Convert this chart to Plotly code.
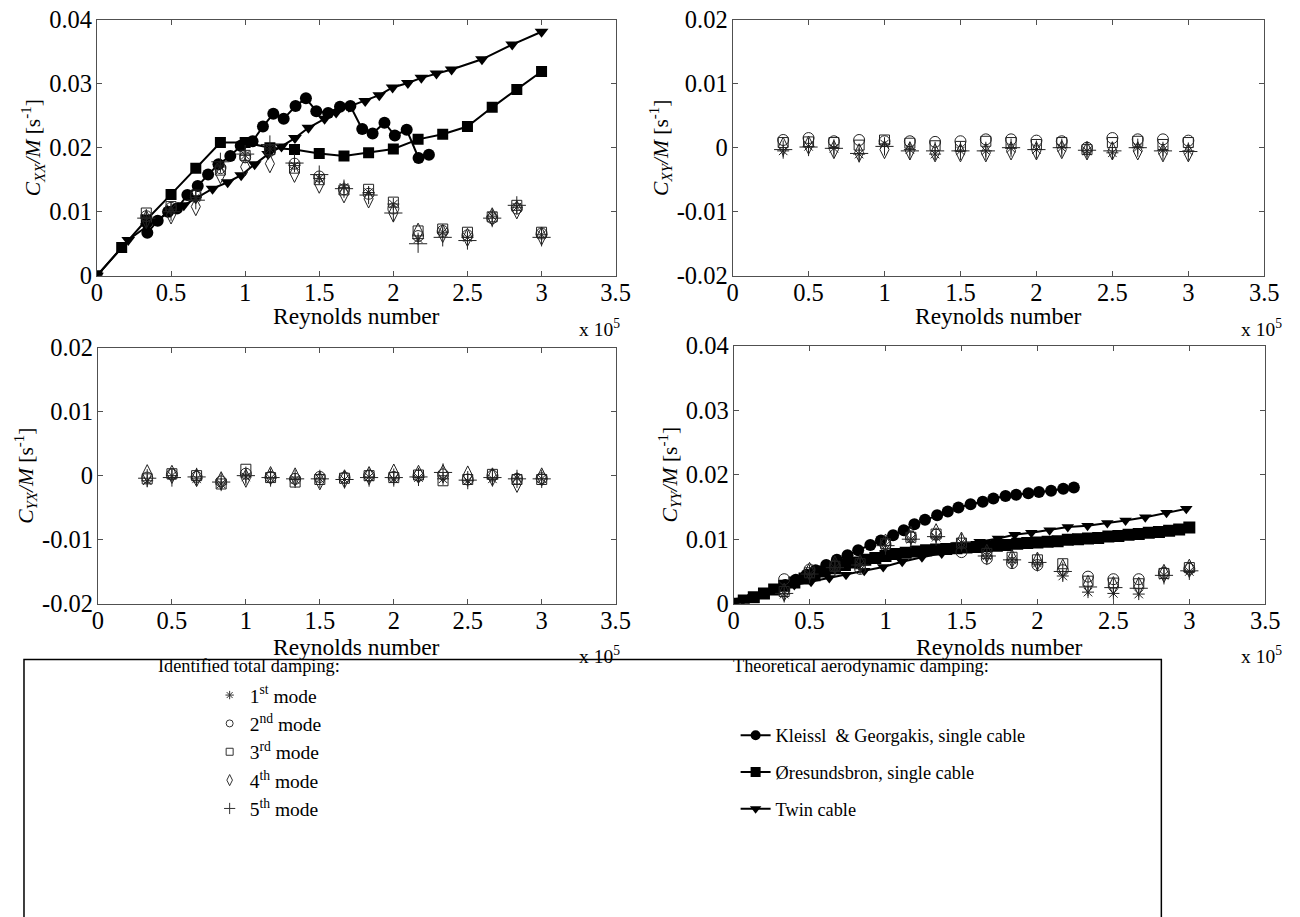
import plotly.graph_objects as go

# ---------------- data ----------------
# Reynolds number (x 10^5) at which the damping was identified
re_exp = [0.333, 0.5, 0.667, 0.833, 1.0, 1.167, 1.333, 1.5, 1.667, 1.833,
          2.0, 2.167, 2.333, 2.5, 2.667, 2.833, 3.0]

mode_names = ["1<sup>st</sup> mode", "2<sup>nd</sup> mode", "3<sup>rd</sup> mode",
              "4<sup>th</sup> mode", "5<sup>th</sup> mode"]

# C_XX / M, identified, per mode
cxx_m1 = [0.0090, 0.0104, 0.0122, 0.0170, 0.0188, 0.0198, 0.0172, 0.0152, 0.0138, 0.0130,
          0.0112, 0.0058, 0.0068, 0.0060, 0.0093, 0.0107, 0.0064]
cxx_m2 = [0.0093, 0.0106, 0.0125, 0.0168, 0.0185, 0.0195, 0.0175, 0.0155, 0.0135, 0.0128,
          0.0105, 0.0062, 0.0070, 0.0063, 0.0090, 0.0105, 0.0066]
cxx_m3 = [0.0098, 0.0108, 0.0126, 0.0165, 0.0188, 0.0197, 0.0168, 0.0150, 0.0134, 0.0135,
          0.0115, 0.0070, 0.0073, 0.0068, 0.0092, 0.0110, 0.0068]
cxx_m4 = [0.0088, 0.0095, 0.0108, 0.0158, 0.0170, 0.0175, 0.0160, 0.0143, 0.0128, 0.0120,
          0.0098, 0.0068, 0.0066, 0.0060, 0.0092, 0.0103, 0.0062]
cxx_m5 = [0.0090, 0.0100, 0.0118, 0.0178, 0.0190, 0.0205, 0.0176, 0.0158, 0.0136, 0.0126,
          0.0098, 0.0050, 0.0060, 0.0055, 0.0090, 0.0110, 0.0060]

# C_XY / M, identified, per mode
cxy_m1 = [-0.0005, 0.0002, -0.0001, -0.0010, 0.0006, -0.0003, -0.0010, -0.0005, -0.0005, -0.0001,
          -0.0003, 0.0000, -0.0005, -0.0008, 0.0000, -0.0004, -0.0005]
cxy_m2 = [0.0012, 0.0015, 0.0010, 0.0012, 0.0010, 0.0010, 0.0009, 0.0010, 0.0013, 0.0013,
          0.0011, 0.0010, 0.0000, 0.0015, 0.0013, 0.0013, 0.0011]
cxy_m3 = [0.0008, 0.0009, 0.0008, 0.0004, 0.0012, 0.0007, 0.0003, 0.0002, 0.0010, 0.0008,
          0.0005, 0.0008, -0.0003, 0.0008, 0.0010, 0.0005, 0.0008]
cxy_m4 = [0.0002, 0.0004, -0.0003, -0.0008, -0.0003, -0.0005, -0.0008, -0.0008, -0.0008, -0.0005,
          -0.0005, -0.0003, -0.0005, -0.0005, -0.0005, -0.0008, -0.0008]
cxy_m5 = [-0.0003, 0.0001, -0.0001, -0.0009, 0.0002, -0.0005, -0.0005, -0.0005, -0.0005, 0.0000,
          -0.0003, 0.0000, -0.0004, -0.0005, 0.0000, -0.0005, -0.0006]

# C_YX / M, identified, per mode
cyx_m1 = [-0.0008, 0.0000, -0.0005, -0.0013, -0.0002, -0.0004, -0.0006, -0.0005, -0.0006, -0.0002,
          -0.0005, -0.0003, -0.0005, -0.0008, -0.0005, -0.0004, -0.0005]
cyx_m2 = [-0.0003, 0.0002, -0.0002, -0.0009, 0.0003, -0.0002, -0.0005, -0.0002, -0.0003, 0.0000,
          -0.0002, 0.0000, 0.0002, -0.0006, 0.0000, -0.0005, -0.0004]
cyx_m3 = [-0.0005, 0.0003, 0.0000, -0.0013, 0.0010, -0.0003, -0.0010, -0.0006, -0.0004, 0.0000,
          -0.0003, 0.0001, -0.0008, -0.0006, 0.0002, -0.0006, -0.0006]
cyx_m4 = [0.0003, 0.0002, -0.0003, -0.0008, -0.0004, 0.0000, -0.0002, -0.0008, -0.0005, 0.0000,
          0.0004, 0.0002, 0.0003, 0.0001, -0.0002, -0.0012, -0.0002]
cyx_m5 = [-0.0004, -0.0003, -0.0002, -0.0010, 0.0000, -0.0003, -0.0005, -0.0005, -0.0006, -0.0003,
          -0.0003, -0.0002, 0.0005, -0.0007, -0.0003, -0.0005, -0.0005]

# C_YY / M, identified, per mode
cyy_m1 = [0.0015, 0.0046, 0.0056, 0.0060, 0.0090, 0.0100, 0.0103, 0.0095, 0.0074, 0.0068,
          0.0063, 0.0043, 0.0018, 0.0016, 0.0015, 0.0044, 0.0050]
cyy_m2 = [0.0038, 0.0053, 0.0058, 0.0054, 0.0092, 0.0104, 0.0107, 0.0080, 0.0070, 0.0063,
          0.0060, 0.0052, 0.0042, 0.0038, 0.0038, 0.0048, 0.0054]
cyy_m3 = [0.0019, 0.0048, 0.0058, 0.0062, 0.0093, 0.0103, 0.0108, 0.0094, 0.0078, 0.0072,
          0.0068, 0.0062, 0.0035, 0.0032, 0.0031, 0.0047, 0.0056]
cyy_m4 = [0.0018, 0.0050, 0.0060, 0.0062, 0.0094, 0.0106, 0.0110, 0.0097, 0.0078, 0.0070,
          0.0066, 0.0055, 0.0030, 0.0028, 0.0027, 0.0047, 0.0055]
cyy_m5 = [0.0016, 0.0046, 0.0056, 0.0060, 0.0090, 0.0100, 0.0104, 0.0095, 0.0074, 0.0068,
          0.0064, 0.0050, 0.0026, 0.0025, 0.0024, 0.0044, 0.0051]

# Theoretical aerodynamic damping
kg_re = [0.34, 0.41, 0.48, 0.54, 0.61, 0.68, 0.75, 0.82, 0.90, 0.97, 1.05, 1.12, 1.19, 1.26,
         1.34, 1.41, 1.48, 1.56, 1.64, 1.71, 1.79, 1.86, 1.94, 2.01, 2.09, 2.17, 2.24]
kg_cxx = [0.0067, 0.0086, 0.0100, 0.0105, 0.0126, 0.0140, 0.0158, 0.0174, 0.0187, 0.0203,
          0.0210, 0.0233, 0.0253, 0.0245, 0.0265, 0.0277, 0.0257, 0.0254, 0.0264, 0.0265,
          0.0229, 0.0222, 0.0239, 0.0219, 0.0228, 0.0184, 0.0189]
kg_cyy = [0.0029, 0.0037, 0.0045, 0.0052, 0.0060, 0.0068, 0.0075, 0.0083, 0.0091, 0.0098,
          0.0106, 0.0114, 0.0123, 0.0130, 0.0137, 0.0143, 0.0149, 0.0154, 0.0158, 0.0163,
          0.0167, 0.0169, 0.0171, 0.0173, 0.0175, 0.0178, 0.0180]

ore_re_xx = [0.0, 0.167, 0.333, 0.5, 0.667, 0.833, 1.0, 1.167, 1.333, 1.5, 1.667, 1.833,
             2.0, 2.167, 2.333, 2.5, 2.667, 2.833, 3.0]
ore_cxx = [0.0, 0.0044, 0.0087, 0.0127, 0.0168, 0.0208, 0.0208, 0.0200, 0.0197, 0.0191,
           0.0187, 0.0192, 0.0198, 0.0213, 0.0221, 0.0233, 0.0263, 0.0291, 0.0319]

ore_re_yy = [0.0, 0.067, 0.133, 0.2, 0.267, 0.333, 0.4, 0.467, 0.533, 0.6, 0.667, 0.733,
             0.8, 0.867, 0.933, 1.0, 1.067, 1.133, 1.2, 1.267, 1.333, 1.4, 1.467, 1.533,
             1.6, 1.667, 1.733, 1.8, 1.867, 1.933, 2.0, 2.067, 2.133, 2.2, 2.267, 2.333,
             2.4, 2.467, 2.533, 2.6, 2.667, 2.733, 2.8, 2.867, 2.933, 3.0]
ore_cyy = [0.0, 0.0005, 0.0010, 0.0016, 0.0022, 0.0028, 0.0033, 0.0039, 0.0044, 0.0050,
           0.0055, 0.0060, 0.0064, 0.0068, 0.0071, 0.0074, 0.0077, 0.0079, 0.0081, 0.0083,
           0.0084, 0.0085, 0.0086, 0.0087, 0.0088, 0.0089, 0.0090, 0.0091, 0.0093, 0.0094,
           0.0095, 0.0096, 0.0097, 0.0099, 0.0100, 0.0101, 0.0102, 0.0104, 0.0105, 0.0107,
           0.0108, 0.0110, 0.0111, 0.0113, 0.0115, 0.0118]

twin_re_xx = [0.0, 0.211, 0.336, 0.495, 0.586, 0.666, 0.78, 0.882, 0.973, 1.064, 1.155, 1.245,
              1.336, 1.427, 1.536, 1.614, 1.70, 1.81, 1.905, 1.995, 2.098, 2.189, 2.291,
              2.393, 2.598, 2.802, 3.0]
twin_cxx = [0.0, 0.0056, 0.0077, 0.0100, 0.0110, 0.0121, 0.0136, 0.0146, 0.0157, 0.0174,
            0.0190, 0.0202, 0.0215, 0.0231, 0.0245, 0.0255, 0.0264, 0.0273, 0.0282, 0.0294,
            0.0301, 0.0309, 0.0316, 0.0322, 0.0338, 0.0361, 0.0381]

twin_re_yy = [0.0, 0.06, 0.13, 0.21, 0.29, 0.40, 0.51, 0.63, 0.74, 0.86, 0.985, 1.11, 1.24,
              1.37, 1.50, 1.62, 1.74, 1.85, 1.96, 2.08, 2.20, 2.33, 2.46, 2.58, 2.71, 2.85, 2.98]
twin_cyy = [0.0, 0.0005, 0.0011, 0.0017, 0.0024, 0.0029, 0.0034, 0.0040, 0.0045, 0.0051,
            0.0057, 0.0065, 0.0072, 0.0078, 0.0086, 0.0096, 0.0101, 0.0107, 0.0110, 0.0114,
            0.0119, 0.0121, 0.0125, 0.0129, 0.0134, 0.0141, 0.0147]

x_ticks = [0, 0.5, 1, 1.5, 2, 2.5, 3, 3.5]
x_tick_text = ["0", "0.5", "1", "1.5", "2", "2.5", "3", "3.5"]
y_ticks_pos = [0, 0.01, 0.02, 0.03, 0.04]
y_text_pos = ["0", "0.01", "0.02", "0.03", "0.04"]
y_ticks_sym = [-0.02, -0.01, 0, 0.01, 0.02]
y_text_sym = ["-0.02", "-0.01", "0", "0.01", "0.02"]

# ---------------- styling ----------------
W, H = 1300, 917
SERIF = "Times New Roman, Liberation Serif, serif"
AX_COL = "#505050"
MK_COL = "#222222"

# page positions (pixels) -> figure pixels; the captured page is slightly rescaled
SX, OX = 0.9844, 6.0
SY, OY = 0.9736, 11.4


def fpx(p):
    return (p - OX) / SX


def fpy(p):
    return (p - OY) / SY


def px_x(p):
    return min(fpx(p), W - 1) / W


def px_y(p):
    return 1 - fpy(p) / H


mode_style = [
    dict(symbol="asterisk-open", size=10),
    dict(symbol="circle-open", size=11),
    dict(symbol="square-open", size=10),
    dict(symbol="diamond-tall-open", size=13),
    dict(symbol="cross-thin-open", size=13),
]
legend_mode_style = [
    dict(symbol="asterisk-open", size=7),
    dict(symbol="circle-open", size=7),
    dict(symbol="square-open", size=7),
    dict(symbol="diamond-tall-open", size=8),
    dict(symbol="cross-thin-open", size=8),
]

theory_names = ["Kleissl  &amp; Georgakis, single cable", "Øresundsbron, single cable",
                "Twin cable"]
theory_symbols = ["circle", "square", "triangle-down"]

panels = [
    # (xaxis, yaxis, x-extent px, y-extent px, subscript, yticks, ytext, modes, theory, sizes)
    ("x", "y", (97, 616), (18, 275), "XX", y_ticks_pos, y_text_pos,
     [cxx_m1, cxx_m2, cxx_m3, cxx_m4, cxx_m5],
     [(kg_re, kg_cxx), (ore_re_xx, ore_cxx), (twin_re_xx, twin_cxx)], [12, 11, 12]),
    ("x2", "y2", (733, 1265), (18, 275), "XY", y_ticks_sym, y_text_sym,
     [cxy_m1, cxy_m2, cxy_m3, cxy_m4, cxy_m5], [], []),
    ("x3", "y3", (98, 616), (347, 604), "YX", y_ticks_sym, y_text_sym,
     [cyx_m1, cyx_m2, cyx_m3, cyx_m4, cyx_m5], [], []),
    ("x4", "y4", (734, 1266), (345, 604), "YY", y_ticks_pos, y_text_pos,
     [cyy_m1, cyy_m2, cyy_m3, cyy_m4, cyy_m5],
     [(kg_re, kg_cyy), (ore_re_yy, ore_cyy), (twin_re_yy, twin_cyy)], [12, 12, 11]),
]

fig = go.Figure()
layout_axes = {}
annotations = []

for (xa, ya, xd, yd, sub, yt, ytt, modes, theory, tsizes) in panels:
    # theoretical curves
    for k, (tx, ty) in enumerate(theory):
        fig.add_trace(go.Scatter(
            x=tx, y=ty, xaxis=xa, yaxis=ya, mode="lines+markers", showlegend=False,
            line=dict(color="black", width=2),
            marker=dict(symbol=theory_symbols[k], size=tsizes[k], color="black",
                        line=dict(width=0)),
            hoverinfo="skip"))
    # identified damping, five modes
    for k, vals in enumerate(modes):
        fig.add_trace(go.Scatter(
            x=re_exp, y=vals, xaxis=xa, yaxis=ya, mode="markers", showlegend=False,
            marker=dict(symbol=mode_style[k]["symbol"], size=mode_style[k]["size"],
                        color=MK_COL, line=dict(width=1, color=MK_COL)),
            hoverinfo="skip"))

    xkey = "xaxis" + xa[1:]
    ykey = "yaxis" + ya[1:]
    layout_axes[xkey] = dict(
        domain=[px_x(xd[0]), px_x(xd[1])], anchor=ya, range=[0, 3.5],
        tickvals=x_ticks, ticktext=x_tick_text, ticks="inside", ticklen=5,
        tickcolor=AX_COL, showline=True, linecolor=AX_COL, linewidth=1, mirror="ticks",
        showgrid=False, zeroline=False, ticklabelstandoff=-5,
        tickfont=dict(family=SERIF, size=24.5, color="black"))
    layout_axes[ykey] = dict(
        domain=[px_y(yd[1]), px_y(yd[0])], anchor=xa, range=[yt[0], yt[-1]],
        tickvals=yt, ticktext=ytt, ticks="inside", ticklen=5,
        tickcolor=AX_COL, showline=True, linecolor=AX_COL, linewidth=1, mirror="ticks",
        showgrid=False, zeroline=False, ticklabelstandoff=-1,
        tickfont=dict(family=SERIF, size=24.5, color="black"),
        title=dict(text="<i>C</i><sub><i>" + sub + "</i></sub><i>/M</i> [s<sup>-1</sup>]",
                   font=dict(family=SERIF, size=21.5, color="black"), standoff=2))

    # x-axis title and the common exponent
    top_row = yd[0] < 100
    annotations.append(dict(
        text="Reynolds number", x=px_x((xd[0] + xd[1]) / 2), y=px_y(315 if top_row else 647),
        xref="paper", yref="paper", xanchor="center", yanchor="middle", showarrow=False,
        font=dict(family=SERIF, size=23.5, color="black")))
    annotations.append(dict(
        text="x 10<sup>5</sup>", x=px_x(622 if xd[0] < 300 else 1292),
        y=px_y(327 if top_row else 655), xref="paper",
        yref="paper", xanchor="right", yanchor="middle", showarrow=False,
        font=dict(family=SERIF, size=19.5, color="black")))

# legend entries (no data, only for the legend boxes)
for k in range(5):
    fig.add_trace(go.Scatter(
        x=[None], y=[None], mode="markers", name=mode_names[k], legend="legend",
        marker=dict(symbol=legend_mode_style[k]["symbol"], size=legend_mode_style[k]["size"],
                    color="#333333", line=dict(width=1, color="#333333"))))
for k in range(3):
    fig.add_trace(go.Scatter(
        x=[None], y=[None], mode="lines+markers", name=theory_names[k], legend="legend2",
        legendgroup="th%d" % k,
        line=dict(color="black", width=2),
        marker=dict(symbol=theory_symbols[k], size=10, color="black", line=dict(width=0))))

# legend headings
annotations.append(dict(
    text="Identified total damping:", x=px_x(249), y=px_y(666), xref="paper", yref="paper",
    xanchor="center", yanchor="middle", showarrow=False,
    font=dict(family=SERIF, size=18.3, color="black")))
annotations.append(dict(
    text="Theoretical aerodynamic damping:", x=px_x(861), y=px_y(666), xref="paper",
    yref="paper", xanchor="center", yanchor="middle", showarrow=False,
    font=dict(family=SERIF, size=18.3, color="black")))

fig.update_layout(
    width=W, height=H, margin=dict(l=0, r=0, t=0, b=0),
    paper_bgcolor="white", plot_bgcolor="white",
    font=dict(family=SERIF, color="black"),
    annotations=annotations,
    shapes=[dict(type="rect", xref="paper", yref="paper",
                 x0=px_x(24), x1=px_x(1162), y0=-0.05, y1=px_y(660),
                 line=dict(color="black", width=1.5), fillcolor="rgba(0,0,0,0)")],
    legend=dict(x=207 / W, y=1 - 683 / H, xanchor="left", yanchor="top",
                bgcolor="rgba(0,0,0,0)", borderwidth=0,
                font=dict(family=SERIF, size=19.5, color="black")),
    legend2=dict(x=741.6 / W, y=1 - 725.2 / H, xanchor="left", yanchor="top",
                 bgcolor="rgba(0,0,0,0)", borderwidth=0, traceorder="grouped",
                 tracegroupgap=10,
                 font=dict(family=SERIF, size=18.3, color="black")),
    **layout_axes,
)

fig.write_html("out.html")
